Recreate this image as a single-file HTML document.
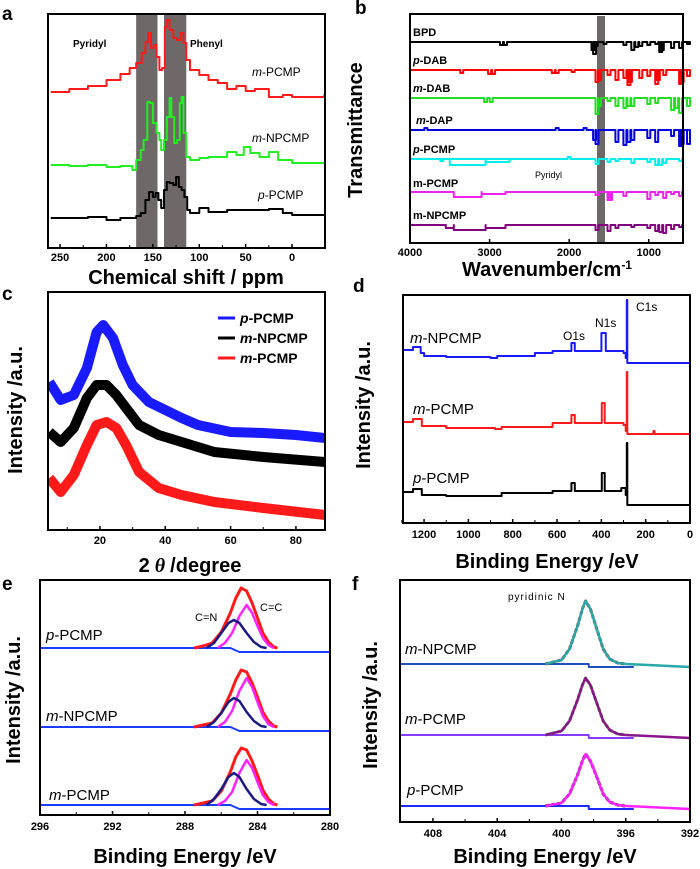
<!DOCTYPE html>
<html><head><meta charset="utf-8"><style>
html,body{margin:0;padding:0;background:#fff;}
svg{display:block;font-family:"Liberation Sans",Arial,sans-serif;}
.tk{font-size:11px;font-weight:bold;}
.ttl{font-size:20px;font-weight:bold;}
.lbl{font-size:14px;}
.let{font-size:19px;font-weight:bold;}
</style></head><body>
<svg id="fig" width="700" height="869" viewBox="0 0 700 869">
<defs><clipPath id="cclip"><rect x="48" y="292" width="277" height="238"/></clipPath></defs>
</svg>
<script>
// ---------- Panel a: 13C NMR ----------
const aX = [260,240,220,200,185,175,168,162,158,155,152,149,146,143,140,137,135,132,128,124,120,117,114,110,100,90,80,70,60,50,40,25,10,0,-20,-35];
const aRed = [156,159,162,168,174,180,185,195,206,215,200,203,191,178,180,221,228,218,210,208,215,205,188,178,173,168,165,159,162,157,159,151,153,151,151,154];
const aGX = [260,240,220,200,185,172,168,163,160,156,153,150,146,143,141,138,135,132,130,127,124,121,119,117,114,110,100,90,70,60,52,45,35,25,15,0,-20,-35];
const aGreen = [83,82,83,81,82,78,88,98,108,146,145,125,115,108,98,108,131,150,131,105,108,145,151,115,91,88,90,91,96,93,101,95,91,96,88,85,85,86];
const aBX = [260,240,220,200,185,172,168,163,158,154,150,147,144,141,138,135,132,128,125,122,119,116,113,110,100,90,70,50,25,10,0,-35];
const aBlack = [30,30,31,28,30,30,32,35,48,56,51,55,48,40,58,66,65,63,71,61,58,51,38,35,40,36,38,38,39,35,33,33];
const aTicks = [250,200,150,100,50,0];
// ---------- Panel b: FTIR ----------
const bNames = ["BPD","p-DAB","m-DAB","m-DAP","p-PCMP","m-PCMP","m-NPCMP"];
const bWn = [
 [2850,2800,1700,1680,1660,1550,1300,1200,1150,1100,1000,900,850,830,700,600,500],
 [3350,3000,2950,2200,2150,1950,1650,1620,1500,1400,1300,1250,1230,1100,1000,900,880,800,600,580,500],
 [3050,2980,1650,1620,1500,1400,1300,1250,1200,1000,900,700,650,600,500],
 [3800,2150,1800,1680,1650,1400,1300,1250,1200,1000,900,700,600,580,500],
 [3600,2000,1650,1500,1400,1200,1000,900,850,800,600],
 [1650,1500,1480,1300,1000,900,800,700,600],
 [1650,1500,1400,1200,1000,900,850,800,700,600]];
const bT = [
 [-3,-3,-8,-12,-4,-2,-3,-8,-5,-4,-3,-2,-10,-8,-6,-6,-2],
 [-3,-4,-4,-3,-3,-2,-12,-10,-5,-10,-8,-15,-12,-8,-6,-14,-10,-5,-14,-12,-6],
 [-4,-4,-16,-8,-3,-8,-10,-8,-8,-6,-5,-12,-10,-15,-8],
 [2,2,2,-10,-14,-12,-15,-12,-10,-8,-12,-6,-16,-14,-14],
 [-2,2,-5,-3,-2,-4,-3,-6,-6,-4,-2],
 [-3,-8,-8,-4,-7,-3,-6,-2,-4],
 [-5,-6,-3,-2,-3,-6,-7,-8,-4,-2]];
const bBlocks = [
 [],[],[],[],
 [[3500,3050,-6],[3050,2750,-3]],
 [[3450,3100,-5],[3100,2800,-2]],
 [[3550,3450,-3],[3450,3050,-5],[3050,2800,-3]]];
const bTicks = [4000,3000,2000,1000];
// ---------- Panel c: XRD ----------
const cX = [4.5,8,12,16,19,21,24,27,30,35,40,45,50,60,70,80,89];
const cBlue = [148,130,135,162,198,205,192,165,145,128,120,112,105,98,97,95,92];
const cBX = [4.5,8,12,16,19,22,25,28,32,38,45,55,70,89];
const cBlack = [98,88,102,132,145,145,135,122,105,95,88,78,73,68];
const cRed = [52,38,55,85,105,108,102,85,58,42,35,28,22,15];
const cTicks = [20,40,60,80];
// ---------- Panel d: XPS survey ----------
const dBX = [1295,1250,1215,1200,1100,900,870,700,620,540,535,520,405,400,390,380,300,290,285,283,0];
const dBlue = [173,176,170,167,166,165,167,170,172,172,180,172,172,190,190,172,170,165,223,160,160];
const dRX = [1295,1250,1210,1100,880,850,620,540,535,520,400,398,390,385,300,290,285,283,170,165,160,0];
const dRed = [101,104,97,95,94,96,100,100,108,100,100,120,120,100,98,92,151,89,89,92,89,89];
const dKX = [1295,1250,1210,1100,880,850,620,540,535,520,400,398,390,385,310,290,285,283,0];
const dBlack = [31,34,28,27,27,30,32,32,40,32,32,50,50,32,35,28,80,18,18];
const dTicks = [1200,1000,800,600,400,200,0];
// ---------- Panel e: C1s ----------
const eEnvX = [287.5,287,286.5,286,285.5,285.2,284.9,284.6,284.3,284,283.7,283.4,283.1,282.9];
const eEnvP = [0,2,5,16,35,50,60,57,45,30,15,6,1,0];
const eEnvN = [0,2,4,14,33,47,57,55,44,30,15,6,1,0];
const eEnvM = [0,2,4,14,33,48,57,55,44,30,15,6,1,0];
const eCNX = [286.8,286.4,286,285.6,285.3,285,284.6,284.2,283.8,283.5];
const eCNP = [0,5,15,25,28,25,15,6,1,0];
const eCNN = [0,5,14,25,29,26,15,6,1,0];
const eCNM = [0,6,16,28,32,28,16,6,1,0];
const eCCX = [286.2,285.8,285.4,285,284.6,284.3,284,283.7,283.4,283.1];
const eCCP = [0,5,15,32,43,35,22,10,3,0];
const eCCN = [0,5,16,36,49,40,25,11,3,0];
const eCCM = [0,4,13,32,45,37,23,10,3,0];
const eTicks = [296,292,288,284,280];
// ---------- Panel f: N1s ----------
const fX = [401,400,399.5,399,398.7,398.5,398.2,397.8,397.4,397,396.5,396];
const fN = [0,4,15,38,55,63,55,35,15,5,1,0];
const fM = [0,4,14,35,50,57,50,32,14,5,1,0];
const fP = [0,3,12,31,45,52,45,29,12,4,1,0];
const fTicks = [408,404,400,396,392];

const NS="http://www.w3.org/2000/svg";
const svg=document.getElementById('fig');
function el(tag,attrs,parent){const e=document.createElementNS(NS,tag);for(const k in attrs)e.setAttribute(k,attrs[k]);(parent||svg).appendChild(e);return e;}
function txt(x,y,s,cls,extra){const t=el('text',Object.assign({x:x,y:y,class:cls},extra||{}));t.innerHTML=s;return t;}
function lin(d0,d1,r0,r1){return v=>r0+(v-d0)*(r1-r0)/(d1-d0);}
function stepPath(xs,ys,sx,sy){let d='M'+sx(xs[0]).toFixed(1)+' '+sy(ys[0]).toFixed(1);for(let i=1;i<xs.length;i++){d+=' H'+sx(xs[i]).toFixed(1)+' V'+sy(ys[i]).toFixed(1);}return d;}
function linePath(xs,ys,sx,sy){let d='';for(let i=0;i<xs.length;i++){d+=(i?' L':'M')+sx(xs[i]).toFixed(1)+' '+sy(ys[i]).toFixed(1);}return d;}
function box(x0,y0,x1,y1,name){const r=el('rect',{x:x0,y:y0,width:x1-x0,height:y1-y0,fill:'none',stroke:'#000','stroke-width':2});}
function ticks(vals,sx,yb,ylab,name){vals.forEach(v=>{const x=sx(v);el('line',{x1:x,x2:x,y1:yb,y2:yb-4,stroke:'#000','stroke-width':1.5});const t=txt(x,ylab,String(v),'tk',{'text-anchor':'middle'});});}
function series(d,color,w,name,dash){const p=el('path',{d:d,fill:'none',stroke:color,'stroke-width':w,'stroke-linejoin':'round'});if(dash)p.setAttribute('stroke-dasharray',dash);return p;}
function ylab(x,y,s,name){const t=txt(x,y,s,'ttl',{'text-anchor':'middle',transform:'rotate(-90 '+x+' '+y+')'});}
function label(x,y,html,cls,name,extra){const t=txt(x,y,html,cls,extra);return t;}

[['a',2,20],['b',355,14],['c',2,300],['d',353,292],['e',2,590],['f',352,590]].forEach(l=>{label(l[1],l[2],l[0],'let','panel-letter-'+l[0]);});

// ---- Panel a
(function(){
 const sx=lin(263,-35.5,48,325), sy=lin(0,235,248,13);
 [[168,145],[138,114]].forEach((b,i)=>{const r=el('rect',{x:sx(b[0]),y:14,width:sx(b[1])-sx(b[0]),height:233,fill:'#6e6868'});});
 series(stepPath(aBX,aBlack,sx,sy),'#000',2,'nmr-p-pcmp-trace');
 series(stepPath(aGX,aGreen,sx,sy),'#22ee22',2,'nmr-m-npcmp-trace');
 series(stepPath(aX,aRed,sx,sy),'#ff1a1a',2,'nmr-m-pcmp-trace');
 box(48,14,325,248,'nmr-plot-frame');
 ticks(aTicks,sx,248,261,'nmr-x');
 [225,175,125,75,25].forEach(v=>el('line',{x1:sx(v),x2:sx(v),y1:248,y2:245,stroke:'#000'}));
 label(186,284,'Chemical shift / ppm','ttl','nmr-x-axis-title',{'text-anchor':'middle'});
 label(73,47,'Pyridyl','lbl','pyridyl-label',{style:'font-size:10px;font-weight:bold'});
 label(190,47,'Phenyl','lbl','phenyl-label',{style:'font-size:10px;font-weight:bold'});
 label(252,76,'<tspan font-style="italic">m</tspan>-PCMP','lbl','nmr-label-m-pcmp',{style:'font-size:12px'});
 label(252,142,'<tspan font-style="italic">m</tspan>-NPCMP','lbl','nmr-label-m-npcmp',{style:'font-size:12px'});
 label(258,199,'<tspan font-style="italic">p</tspan>-PCMP','lbl','nmr-label-p-pcmp',{style:'font-size:12px'});
})();

// ---- Panel b
(function(){
 const sx=lin(4000,1600,410,601);
 const bColors=['#000','#ff0000','#22dd22','#0000dd','#00eeee','#ee22ee','#800080'];
 const base=[42,70,98,130,159,192,225];
 const r=el('rect',{x:597,y:16,width:8,height:227,fill:'#6e6868'});
 for(let i=0;i<7;i++){
  const b0=base[i];const sy=v=>b0-v;
  let d='M410 '+b0;
  bBlocks[i].forEach(bl=>{d+=' H'+sx(bl[0]).toFixed(1)+' V'+sy(bl[2]).toFixed(1)+' H'+sx(bl[1]).toFixed(1)+' V'+b0;});
  bWn[i].forEach((w,j)=>{const x=sx(w);d+=' H'+(x-1.5).toFixed(1)+' V'+sy(bT[i][j]).toFixed(1)+' H'+(x+1.5).toFixed(1)+' V'+b0;});
  d+=' H683';
  series(d,bColors[i],2,'ftir-trace-'+bNames[i].toLowerCase());
 }
 box(410,14,683,243,'ftir-plot-frame');
 ticks(bTicks,sx,243,256,'ftir-x');
 ylab(362,130,'Transmittance','ftir-y-axis-title');
 label(547,276,'Wavenumber/cm<tspan dy="-7" font-size="12">-1</tspan>','ttl','ftir-x-axis-title',{'text-anchor':'middle'});
 const lbls=['BPD','<tspan font-style="italic">p</tspan>-DAB','<tspan font-style="italic">m</tspan>-DAB','<tspan font-style="italic">m</tspan>-DAP','<tspan font-style="italic">p</tspan>-PCMP','m-PCMP','m-NPCMP'];
 const ly=[36,64,92,124,153,187,219];
 lbls.forEach((s,i)=>label(i==3?416:413,ly[i],s,'lbl','ftir-label-'+bNames[i].toLowerCase(),{style:'font-size:11px;font-weight:bold'}));
 label(535,178,'Pyridyl','lbl','ftir-pyridyl-label',{style:'font-size:9px'});
})();

// ---- Panel c
(function(){
 const sx=lin(4.1,88.9,48,325), sy=lin(0,240,530,290);
 const g=el('g',{'clip-path':'url(#cclip)'});
 
 
 [[cX,cBlue,'#1a1aff','xrd-p-pcmp-trace'],[cBX,cBlack,'#000','xrd-m-npcmp-trace'],[cBX,cRed,'#ff1a1a','xrd-m-pcmp-trace']].forEach(s=>{
  const p=el('path',{d:linePath(s[0],s[1],sx,sy),fill:'none',stroke:s[2],'stroke-width':10,'stroke-linejoin':'round'},g);
  
  
 });
 box(48,292,325,530,'xrd-plot-frame');
 ticks(cTicks,sx,530,544,'xrd-x');
 [10,30,50,70].forEach(v=>el('line',{x1:sx(v),x2:sx(v),y1:530,y2:527,stroke:'#000'}));
 ylab(22,410,'Intensity /a.u.','xrd-y-axis-title');
 label(190,572,'2<tspan font-family="Liberation Serif" font-style="italic"> θ </tspan>/degree','ttl','xrd-x-axis-title',{'text-anchor':'middle'});
 const L=[['#1a1aff','<tspan font-style="italic">p</tspan>-PCMP',318],['#000','<tspan font-style="italic">m</tspan>-NPCMP',338],['#ff1a1a','<tspan font-style="italic">m</tspan>-PCMP',358]];
 L.forEach((l,i)=>{const ln=el('line',{x1:218,x2:235,y1:l[2],y2:l[2],stroke:l[0],'stroke-width':3});label(240,l[2]+5,l[1],'lbl','xrd-legend-entry-'+i,{style:'font-size:14px;font-weight:bold'});});
})();

// ---- Panel d
(function(){
 const sx=lin(1295,0,403,690), sy=v=>523-v;
 series(stepPath(dBX,dBlue,sx,sy),'#1a1aff',2,'xps-m-npcmp-trace');
 series(stepPath(dRX,dRed,sx,sy),'#ff1a1a',2,'xps-m-pcmp-trace');
 series(stepPath(dKX,dBlack,sx,sy),'#000',2,'xps-p-pcmp-trace');
 box(403,295,690,523,'xps-plot-frame');
 ticks(dTicks,sx,523,538,'xps-x');
 [1300,1100,900,700,500,300,100].forEach(v=>el('line',{x1:sx(v),x2:sx(v),y1:523,y2:520,stroke:'#000'}));
 ylab(370,405,'Intensity /a.u.','xps-y-axis-title');
 label(547,568,'Binding Energy /eV','ttl','xps-x-axis-title',{'text-anchor':'middle'});
 label(410,343,'<tspan font-style="italic">m</tspan>-NPCMP','lbl','xps-label-m-npcmp',{style:'font-size:15px'});
 label(413,414,'<tspan font-style="italic">m</tspan>-PCMP','lbl','xps-label-m-pcmp',{style:'font-size:15px'});
 label(413,483,'<tspan font-style="italic">p</tspan>-PCMP','lbl','xps-label-p-pcmp',{style:'font-size:15px'});
 label(563,340,'O1s','lbl','xps-o1s-label',{style:'font-size:12px'});
 label(595,327,'N1s','lbl','xps-n1s-label',{style:'font-size:12px'});
 label(636,311,'C1s','lbl','xps-c1s-label',{style:'font-size:12px'});
})();

// ---- Panel e
(function(){
 const sx=lin(296,280,40,330);
 const groups=[['p-pcmp',648,eEnvP,eCNP,eCCP],['m-npcmp',727,eEnvN,eCNN,eCCN],['m-pcmp',805,eEnvM,eCNM,eCCM]];
 groups.forEach(g=>{
  const sy=v=>g[1]-v;
  series('M40 '+g[1]+' H'+sx(285.5)+' L'+sx(285)+' '+(g[1]+4)+' H330','#1a3cff',2,'c1s-'+g[0]+'-baseline');
  series(linePath(eEnvX,g[2],sx,sy),'#ff1a1a',3,'c1s-'+g[0]+'-envelope');
  series(linePath(eCCX,g[4],sx,sy),'#ff22ff',2.5,'c1s-'+g[0]+'-cc-component');
  series(linePath(eCNX,g[3],sx,sy),'#1a1a80',2.5,'c1s-'+g[0]+'-cn-component');
 });
 box(40,580,330,815,'c1s-plot-frame');
 ticks(eTicks,sx,815,830,'c1s-x');
 [294,290,286,282].forEach(v=>el('line',{x1:sx(v),x2:sx(v),y1:815,y2:812,stroke:'#000'}));
 ylab(20,700,'Intensity /a.u.','c1s-y-axis-title');
 label(185,863,'Binding Energy /eV','ttl','c1s-x-axis-title',{'text-anchor':'middle'});
 label(46,640,'<tspan font-style="italic">p</tspan>-PCMP','lbl','c1s-label-p-pcmp',{style:'font-size:15px'});
 label(46,721,'<tspan font-style="italic">m</tspan>-NPCMP','lbl','c1s-label-m-npcmp',{style:'font-size:15px'});
 label(49,800,'<tspan font-style="italic">m</tspan>-PCMP','lbl','c1s-label-m-pcmp',{style:'font-size:15px'});
 label(195,621,'C=N','lbl','cn-label',{style:'font-size:11px'});
 label(260,611,'C=C','lbl','cc-label',{style:'font-size:11px'});
})();

// ---- Panel f
(function(){
 const sx=lin(410.05,392,400,690);
 const groups=[['m-npcmp',664,fN,'#28a8a8','#9a1010','#2050c0'],['m-pcmp',735,fM,'#8a168a','#1a8a1a','#8a3aff'],['p-pcmp',806,fP,'#ff22ff','#000','#1a2aff']];
 groups.forEach(g=>{
  const sy=v=>g[1]-v;
  series('M400 '+g[1]+' H'+sx(398.3)+' V'+(g[1]+3)+' H'+sx(395.5),g[5],2,'n1s-'+g[0]+'-baseline');
  series(linePath(fX,g[2],sx,sy),g[4],3,'n1s-'+g[0]+'-fit','4 2');
  series(linePath(fX,g[2],sx,sy),g[3],2.5,'n1s-'+g[0]+'-trace');
  series('M'+sx(396)+' '+g[1]+' L690 '+(g[1]+3),g[3],2.5,'n1s-'+g[0]+'-tail');
 });
 box(400,580,690,822,'n1s-plot-frame');
 ticks(fTicks,sx,822,837,'n1s-x');
 [406,402,398,394].forEach(v=>el('line',{x1:sx(v),x2:sx(v),y1:822,y2:819,stroke:'#000'}));
 ylab(377,705,'Intensity /a.u.','n1s-y-axis-title');
 label(545,863,'Binding Energy /eV','ttl','n1s-x-axis-title',{'text-anchor':'middle'});
 label(405,654,'<tspan font-style="italic">m</tspan>-NPCMP','lbl','n1s-label-m-npcmp',{style:'font-size:15px'});
 label(405,724,'<tspan font-style="italic">m</tspan>-PCMP','lbl','n1s-label-m-pcmp',{style:'font-size:15px'});
 label(407,795,'<tspan font-style="italic">p</tspan>-PCMP','lbl','n1s-label-p-pcmp',{style:'font-size:15px'});
 label(508,600,'pyridinic N','lbl','pyridinic-n-label',{style:'font-size:10px;letter-spacing:1px'});
})();
</script>
</body></html>
